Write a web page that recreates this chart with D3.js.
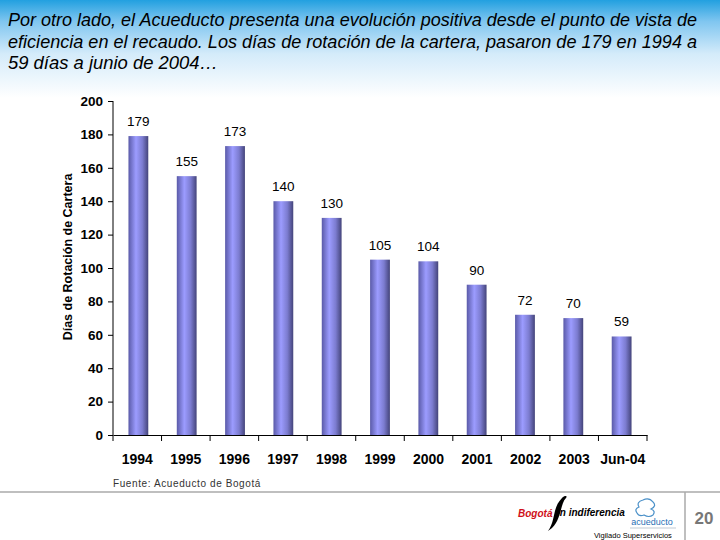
<!DOCTYPE html>
<html><head><meta charset="utf-8">
<script src="https://cdn.jsdelivr.net/npm/d3@7"></script>
<style>body{margin:0;background:#fff}svg{display:block;font-family:"Liberation Sans",Arial,sans-serif}</style>
</head><body><svg id="c" width="720" height="540"></svg>
<script>
const categories = ["1994","1995","1996","1997","1998","1999","2000","2001","2002","2003","Jun-04"];
const values = [179,155,173,140,130,105,104,90,72,70,59];
const yTicks = [0,20,40,60,80,100,120,140,160,180,200];
const titleLines = [
  "Por otro lado, el Acueducto presenta una evolución positiva desde el punto de vista de",
  "eficiencia en el recaudo. Los días de rotación de la cartera, pasaron de 179 en 1994 a",
  "59 días a junio de 2004…"
];

const svg = d3.select("#c");
const defs = svg.append("defs");
const bg = defs.append("linearGradient").attr("id","bg").attr("x1",0).attr("y1",0).attr("x2",0).attr("y2",1);
bg.append("stop").attr("offset","0%").attr("stop-color","#22a0e0");
bg.append("stop").attr("offset","22%").attr("stop-color","#80c6f0");
bg.append("stop").attr("offset","55%").attr("stop-color","#d4ebfa");
bg.append("stop").attr("offset","100%").attr("stop-color","#ffffff");
const bar = defs.append("linearGradient").attr("id","bar").attr("x1",0).attr("y1",0).attr("x2",1).attr("y2",0);
bar.append("stop").attr("offset","0%").attr("stop-color","#5a5aa8");
bar.append("stop").attr("offset","38%").attr("stop-color","#9c9cff");
bar.append("stop").attr("offset","70%").attr("stop-color","#7c7cd0");
bar.append("stop").attr("offset","100%").attr("stop-color","#44447a");

svg.append("rect").attr("x",0).attr("y",0).attr("width",720).attr("height",98).attr("fill","url(#bg)");

const tl = [697-8, 697-8, 210];
svg.append("g").selectAll("text").data(titleLines).join("text")
  .attr("x",8).attr("y",(d,i)=>26+i*21.5)
  .attr("font-size",17.5).attr("font-style","italic").attr("fill","#000")
  .attr("textLength",(d,i)=>tl[i]).attr("lengthAdjust","spacingAndGlyphs")
  .text(d=>d);

const x = d3.scaleBand().domain(categories).range([113,647]).paddingInner(0.59).paddingOuter(0.32);
const y = d3.scaleLinear().domain([0,200]).range([435,101]);

// bars
svg.append("g").selectAll("rect").data(values).join("rect")
  .attr("x",(d,i)=>x(categories[i])).attr("width",x.bandwidth())
  .attr("y",d=>y(d)).attr("height",d=>y(0)-y(d)).attr("fill","url(#bar)");

// value labels
svg.append("g").selectAll("text").data(values).join("text")
  .attr("x",(d,i)=>x(categories[i])+x.bandwidth()/2).attr("y",d=>y(d)-10)
  .attr("text-anchor","middle").attr("font-size",13.5).attr("fill","#000").text(d=>d);

// y axis
const ya = svg.append("g").attr("transform","translate(113,0)")
  .call(d3.axisLeft(y).tickValues(yTicks).tickSize(5).tickPadding(5));
ya.select(".domain").attr("stroke","#000").attr("d","M0,101V435");
ya.selectAll("text").attr("font-size",13.5).attr("font-weight","bold").attr("font-family","Liberation Sans, Arial").attr("fill","#000");

// x axis
const xb = d3.scaleBand().domain(categories).range([113,647]);
const xa = svg.append("g").attr("transform","translate(0,435)")
  .call(d3.axisBottom(xb).tickSize(0).tickPadding(19));
xa.select(".domain").attr("stroke","#000");
xa.selectAll("text").attr("font-size",14).attr("font-weight","bold").attr("font-family","Liberation Sans, Arial").attr("fill","#000");
svg.append("g").selectAll("line").data(categories.concat(["end"])).join("line")
  .attr("x1",(d,i)=>i<categories.length?xb(d):647).attr("x2",(d,i)=>i<categories.length?xb(d):647)
  .attr("y1",435).attr("y2",441).attr("stroke","#000");

// y title
svg.append("text").attr("transform","translate(72,257) rotate(-90)")
  .attr("text-anchor","middle").attr("font-size",12.5).attr("font-weight","bold").attr("fill","#000")
  .text("Días de Rotación de Cartera");

// source
svg.append("text").attr("x",113).attr("y",487).attr("font-size",10).attr("fill","#333")
  .attr("letter-spacing",0.6).text("Fuente: Acueducto de Bogotá");

// footer lines
svg.append("line").attr("x1",0).attr("x2",720).attr("y1",492).attr("y2",492).attr("stroke","#aaa").attr("stroke-width",1.5);
svg.append("line").attr("x1",685).attr("x2",685).attr("y1",492).attr("y2",540).attr("stroke","#aaa").attr("stroke-width",1.5);
svg.append("text").attr("x",704).attr("y",524).attr("text-anchor","middle").attr("font-size",17)
  .attr("font-weight","bold").attr("fill","#777").text("20");

// logos
svg.append("text").attr("x",518).attr("y",517).attr("font-size",10).attr("font-weight","bold")
  .attr("font-style","italic").attr("fill","#d0101a").text("Bogotá");
svg.append("path").attr("d","M548,531 C556,520 552,508 562,498 C565,495 568,496 566,498 C560,504 562,518 552,528 Z")
  .attr("fill","#000");
svg.append("text").attr("x",557).attr("y",516).attr("font-size",10).attr("font-weight","bold")
  .attr("font-style","italic").attr("fill","#000").text("in indiferencia");
svg.append("path").attr("d","M643,500 q6,-3 10,2 q4,4 -2,7 q5,2 2,6 q-4,3 -9,0 q-5,2 -7,-2 q-3,-4 2,-6 q-3,-5 4,-7 Z")
  .attr("fill","none").attr("stroke","#4a90c8").attr("stroke-width",1.2);
svg.append("text").attr("x",652).attr("y",525).attr("text-anchor","middle").attr("font-size",9)
  .attr("fill","#1f6fb5").text("acueducto");
svg.append("line").attr("x1",630).attr("x2",676).attr("y1",528).attr("y2",528).attr("stroke","#9ab").attr("stroke-width",0.6);
svg.append("text").attr("x",594).attr("y",538).attr("font-size",7.5).attr("fill","#000")
  .text("Vigilado Superservicios");
</script></body></html>
